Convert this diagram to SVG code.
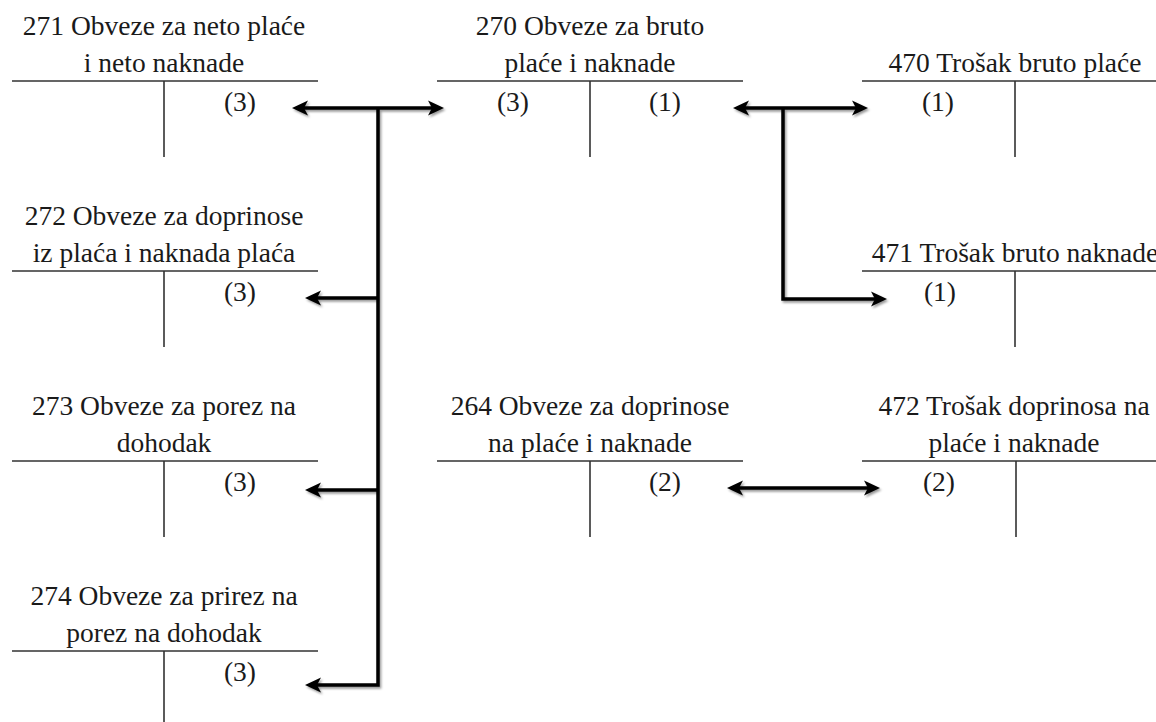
<svg xmlns="http://www.w3.org/2000/svg" width="1156" height="722" viewBox="0 0 1156 722">
<style>
text.acct{font-family:"Liberation Serif","Times New Roman",serif;font-size:27.5px;fill:#1a1a1a;text-anchor:middle}
.ln{stroke:#333;stroke-width:1.6;fill:none}
.c{stroke:#000;stroke-width:3.5;fill:none;stroke-linejoin:miter}
</style>
<defs>
<marker id="ah" viewBox="0 -8 16 16" refX="5" refY="0" markerWidth="16" markerHeight="16" markerUnits="userSpaceOnUse" orient="auto-start-reverse">
<path d="M16,0 L0,-7.5 L4,0 L0,7.5 Z" fill="#000"/>
</marker>
<filter id="sh" x="-10%" y="-10%" width="120%" height="120%">
<feDropShadow dx="1.5" dy="2" stdDeviation="1.3" flood-color="#000" flood-opacity="0.4"/>
</filter>
</defs>
<rect width="1156" height="722" fill="#fff"/>

<g id="acc271">
<text class="acct" x="164" y="35">271 Obveze za neto plaće</text>
<text class="acct" x="164" y="72">i neto naknade</text>
<path class="ln" d="M12,81 H318 M164,81 V157"/>
<text class="acct" x="240" y="111">(3)</text>
</g>

<g id="acc270">
<text class="acct" x="590" y="35">270 Obveze za bruto</text>
<text class="acct" x="590" y="72">plaće i naknade</text>
<path class="ln" d="M437,81 H743 M590,81 V157"/>
<text class="acct" x="513" y="111">(3)</text>
<text class="acct" x="665" y="111">(1)</text>
</g>

<g id="acc470">
<text class="acct" x="1015" y="72">470 Trošak bruto plaće</text>
<path class="ln" d="M862,81 H1156 M1015,81 V157"/>
<text class="acct" x="938" y="111">(1)</text>
</g>

<g id="acc272">
<text class="acct" x="164" y="225">272 Obveze za doprinose</text>
<text class="acct" x="164" y="262">iz plaća i naknada plaća</text>
<path class="ln" d="M12,271 H318 M164,271 V347"/>
<text class="acct" x="240" y="301">(3)</text>
</g>

<g id="acc471">
<text class="acct" x="1015" y="262">471 Trošak bruto naknade</text>
<path class="ln" d="M862,271 H1156 M1015,271 V347"/>
<text class="acct" x="940" y="301">(1)</text>
</g>

<g id="acc273">
<text class="acct" x="164" y="415">273 Obveze za porez na</text>
<text class="acct" x="164" y="452">dohodak</text>
<path class="ln" d="M12,461 H318 M164,461 V537"/>
<text class="acct" x="240" y="491">(3)</text>
</g>

<g id="acc264">
<text class="acct" x="590" y="415">264 Obveze za doprinose</text>
<text class="acct" x="590" y="452">na plaće i naknade</text>
<path class="ln" d="M437,461 H743 M590,461 V537"/>
<text class="acct" x="665" y="491">(2)</text>
</g>

<g id="acc472">
<text class="acct" x="1014" y="415">472 Trošak doprinosa na</text>
<text class="acct" x="1014" y="452">plaće i naknade</text>
<path class="ln" d="M862,461 H1156 M1016,461 V537"/>
<text class="acct" x="939" y="491">(2)</text>
</g>

<g id="acc274">
<text class="acct" x="164" y="605">274 Obveze za prirez na</text>
<text class="acct" x="164" y="642">porez na dohodak</text>
<path class="ln" d="M12,651 H318 M164,651 V727"/>
<text class="acct" x="240" y="681">(3)</text>
</g>

<g id="connectors" filter="url(#sh)">
<path class="c" d="M303,108 H433" marker-start="url(#ah)" marker-end="url(#ah)"/>
<path class="c" d="M378,108 V685 H316" marker-end="url(#ah)"/>
<path class="c" d="M378,298 H316" marker-end="url(#ah)"/>
<path class="c" d="M378,490 H316" marker-end="url(#ah)"/>
<path class="c" d="M744,108 H857" marker-start="url(#ah)" marker-end="url(#ah)"/>
<path class="c" d="M783,108 V299 H876" marker-end="url(#ah)"/>
<path class="c" d="M738,488 H869" marker-start="url(#ah)" marker-end="url(#ah)"/>
</g>
</svg>
